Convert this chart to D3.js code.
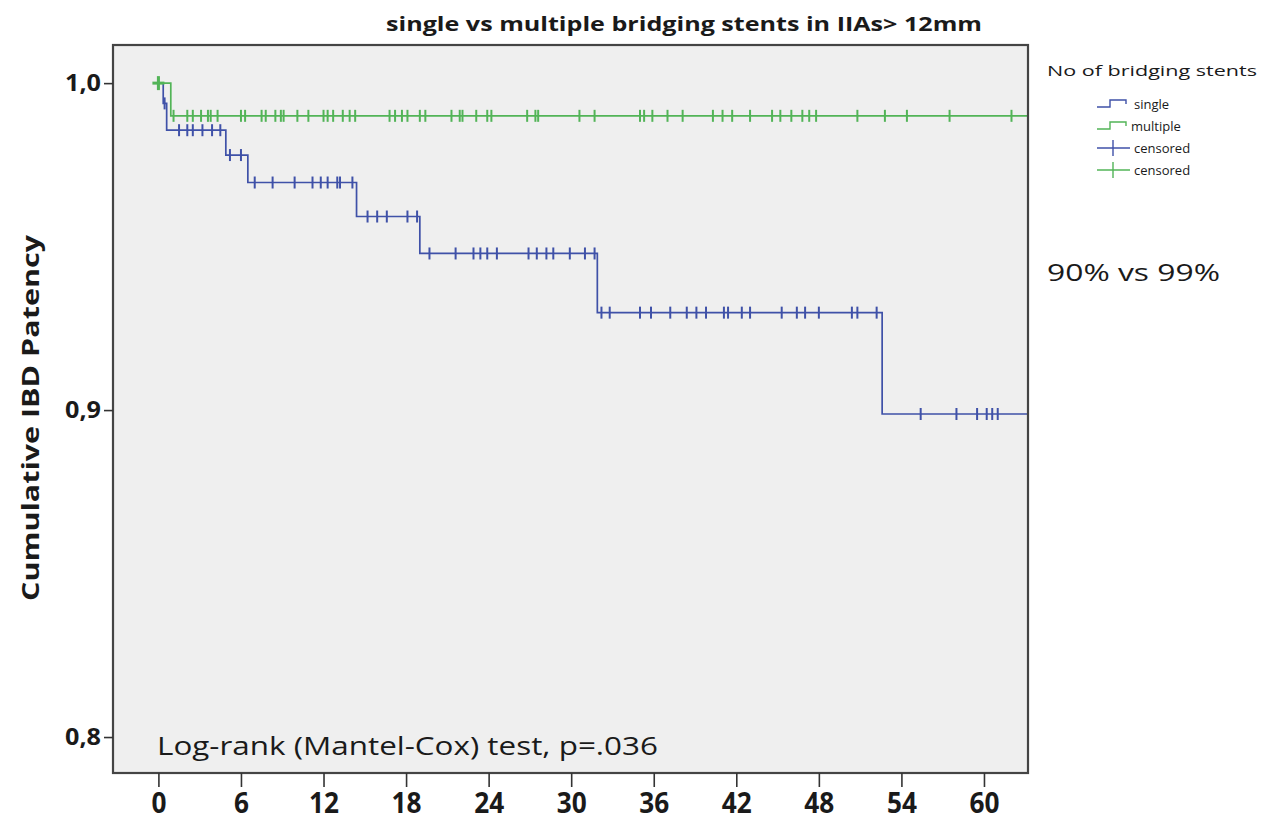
<!DOCTYPE html>
<html>
<head>
<meta charset="utf-8">
<script src="https://cdn.jsdelivr.net/npm/d3@7"></script>
<style>
  html, body { margin: 0; padding: 0; background: #ffffff; }
  svg { display: block; }
  text { font-family: "Open Sans", "Liberation Sans", sans-serif; fill: #1a1a1a; }
</style>
</head>
<body>
<svg id="chart" width="1262" height="827"></svg>
<script>
// ---- Data ----
const xTicks = [0, 6, 12, 18, 24, 30, 36, 42, 48, 54, 60];
const yTicks = [0.8, 0.9, 1.0];
const yTickLabels = ["0,8", "0,9", "1,0"];

// single: step times (months) and survival after each step
const singleTimes = [0, 0.35, 0.6, 4.9, 6.5, 14.4, 19.0, 31.9, 52.6];
const singleSurv  = [1.0, 0.9938, 0.9856, 0.978, 0.9696, 0.9592, 0.9479, 0.9298, 0.8988];
const singleCensored = [0.45, 1.5, 2.1, 2.5, 3.2, 3.9, 4.5, 5.2, 6.0,
  7.0, 8.3, 9.9, 11.2, 11.8, 12.3, 13.0, 13.2, 14.1,
  15.2, 15.9, 16.6, 18.1, 18.8,
  19.7, 21.6, 22.9, 23.4, 23.9, 24.6, 26.9, 27.5, 28.2, 28.7, 29.9, 31.0, 31.7,
  32.2, 32.8, 35.0, 35.8, 37.2, 38.4, 39.1, 39.8, 41.1, 41.4, 42.4, 43.0, 45.3, 46.4, 47.0, 48.0, 50.4, 50.8, 52.2,
  55.4, 58.0, 59.5, 60.2, 60.6, 61.0];
const singleEnd = 63.2;

// multiple
const multipleTimes = [0, 0.9];
const multipleSurv  = [1.0, 0.99];
const multipleCensored = [0, 1.1, 2.1, 2.5, 3.1, 3.6, 3.8, 4.3, 6.0, 6.3, 7.5, 7.8, 8.5, 8.9, 9.1,
  10.1, 10.9, 12.0, 12.3, 12.7, 13.4, 13.9, 14.3, 16.8, 17.2, 17.7, 18.1, 19.0, 19.4,
  21.3, 21.9, 22.1, 23.1, 23.9, 24.2, 26.8, 27.4, 27.6, 30.6, 31.7,
  35.0, 35.3, 35.9, 37.0, 38.1, 40.3, 41.0, 41.7, 43.0, 44.6, 45.2, 46.0, 46.8, 47.3, 47.8,
  50.8, 52.8, 54.4, 57.5, 62.0];
const multipleEnd = 63.2;

const titleText = "single vs multiple bridging stents in IIAs> 12mm";
const yLabel = "Cumulative IBD Patency";
const legendTitle = "No of bridging stents";
const legendItems = ["single", "multiple", "censored", "censored"];
const noteRight = "90% vs 99%";
const noteTest = "Log-rank (Mantel-Cox) test, p=.036";

// ---- Drawing ----
const blue = "#3f51a8";
const green = "#52b457";

const svg = d3.select("#chart");
const pLeft = 113, pRight = 1028, pTop = 45, pBottom = 773;

const x = d3.scaleLinear().domain([-3.3, 63.2]).range([pLeft, pRight]);
const y = d3.scaleLinear().domain([0.789, 1.01166]).range([pBottom, pTop]);

// plot area background
svg.append("rect")
  .attr("x", pLeft).attr("y", pTop)
  .attr("width", pRight - pLeft).attr("height", pBottom - pTop)
  .attr("fill", "#efefef");

// title
svg.append("text")
  .attr("x", 386).attr("y", 31)
  .attr("textLength", 596).attr("lengthAdjust", "spacingAndGlyphs")
  .style("font-size", "20px").style("font-weight", "700")
  .text(titleText);

function survAt(times, surv, t) {
  const i = d3.bisectRight(times, t) - 1;
  return surv[Math.max(0, i)];
}

function drawCurve(times, surv, end, censored, color) {
  const pts = times.map((t, i) => [t, surv[i]]);
  pts.push([end, surv[surv.length - 1]]);
  const line = d3.line().x(d => x(d[0])).y(d => y(d[1])).curve(d3.curveStepAfter);
  svg.append("path").attr("d", line(pts))
    .attr("fill", "none").attr("stroke", color).attr("stroke-width", 1.7);
  const g = svg.append("g");
  g.selectAll("line").data(censored).join("line")
    .attr("x1", d => x(d)).attr("x2", d => x(d))
    .attr("y1", d => y(survAt(times, surv, d)) - 6)
    .attr("y2", d => y(survAt(times, surv, d)) + 6)
    .attr("stroke", color).attr("stroke-width", 2);
}

drawCurve(singleTimes, singleSurv, singleEnd, singleCensored, blue);
drawCurve(multipleTimes, multipleSurv, multipleEnd, multipleCensored, green);
// emphasise the censored plus at time 0 (multiple)
svg.append("line")
  .attr("x1", x(0) - 6).attr("x2", x(0) + 6)
  .attr("y1", y(multipleSurv[0])).attr("y2", y(multipleSurv[0]))
  .attr("stroke", green).attr("stroke-width", 3);
svg.append("line")
  .attr("x1", x(0)).attr("x2", x(0))
  .attr("y1", y(multipleSurv[0]) - 7).attr("y2", y(multipleSurv[0]) + 7)
  .attr("stroke", green).attr("stroke-width", 3);

// plot border
svg.append("rect")
  .attr("x", pLeft).attr("y", pTop)
  .attr("width", pRight - pLeft).attr("height", pBottom - pTop)
  .attr("fill", "none").attr("stroke", "#444").attr("stroke-width", 2.2);

// x axis
const xAxis = d3.axisBottom(x).tickValues(xTicks).tickSize(14).tickPadding(6).tickFormat(d3.format("d"));
const gx = svg.append("g").attr("transform", `translate(0,${pBottom})`).call(xAxis);
gx.select(".domain").remove();
gx.selectAll(".tick line").attr("stroke", "#333").attr("stroke-width", 1.6);
gx.selectAll(".tick text")
  .attr("fill", "#1a1a1a")
  .attr("textLength", d => String(d).length * 15)
  .attr("lengthAdjust", "spacingAndGlyphs")
  .style("font-size", "28px").style("font-weight", "700");

// y axis
const yAxis = d3.axisLeft(y).tickValues(yTicks).tickSize(9).tickPadding(3)
  .tickFormat((d, i) => yTickLabels[i]);
const gy = svg.append("g").attr("transform", `translate(${pLeft},0)`).call(yAxis);
gy.select(".domain").remove();
gy.selectAll(".tick line").attr("stroke", "#333").attr("stroke-width", 1.6);
gy.selectAll(".tick text")
  .attr("fill", "#1a1a1a")
  .attr("textLength", 36).attr("lengthAdjust", "spacingAndGlyphs")
  .style("font-size", "24px").style("font-weight", "700");

// y label
svg.append("text")
  .attr("transform", "translate(39,418) rotate(-90)")
  .attr("text-anchor", "middle")
  .attr("textLength", 366).attr("lengthAdjust", "spacingAndGlyphs")
  .style("font-size", "24px").style("font-weight", "700")
  .text(yLabel);

// legend
svg.append("text")
  .attr("x", 1047).attr("y", 76)
  .attr("textLength", 210).attr("lengthAdjust", "spacingAndGlyphs")
  .style("font-size", "15px")
  .text(legendTitle);

const legY = [104, 126, 148, 170];
const legColors = [blue, green, blue, green];
legendItems.forEach((name, i) => {
  const yy = legY[i];
  const c = legColors[i];
  if (i < 2) {
    const p = d3.path();
    p.moveTo(1097, yy + 3); p.lineTo(1110, yy + 3); p.lineTo(1110, yy - 4);
    p.lineTo(1126, yy - 4); p.lineTo(1126, yy);
    svg.append("path").attr("d", p.toString()).attr("fill", "none")
      .attr("stroke", c).attr("stroke-width", 1.4);
  } else {
    svg.append("line").attr("x1", 1097).attr("x2", 1130).attr("y1", yy).attr("y2", yy)
      .attr("stroke", c).attr("stroke-width", 1.4);
    svg.append("line").attr("x1", 1113).attr("x2", 1113).attr("y1", yy - 8).attr("y2", yy + 8)
      .attr("stroke", c).attr("stroke-width", 1.4);
  }
  svg.append("text")
    .attr("x", i === 1 ? 1131 : 1134).attr("y", yy + 5)
    .style("font-size", "13px")
    .text(name);
});

// annotations
svg.append("text")
  .attr("x", 1047).attr("y", 281)
  .attr("textLength", 173).attr("lengthAdjust", "spacingAndGlyphs")
  .style("font-size", "24px")
  .text(noteRight);

svg.append("text")
  .attr("x", 157).attr("y", 755)
  .attr("textLength", 501).attr("lengthAdjust", "spacingAndGlyphs")
  .style("font-size", "26px")
  .text(noteTest);
</script>
</body>
</html>
